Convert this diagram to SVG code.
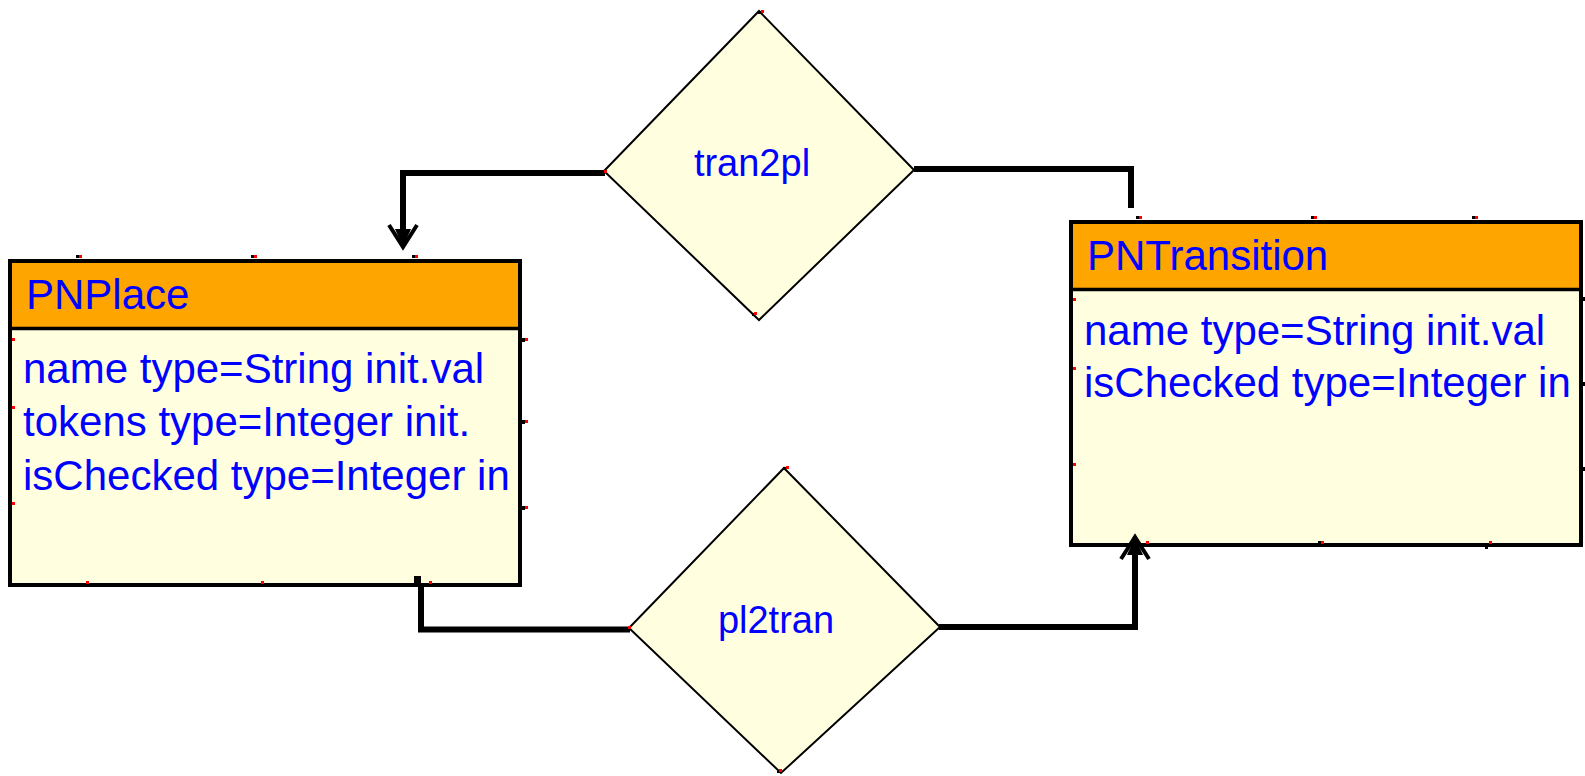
<svg xmlns="http://www.w3.org/2000/svg" width="1585" height="776" viewBox="0 0 1585 776">
<style>
.box{fill:#FFFFE0;stroke:#000;stroke-width:4}
.hdr{fill:#FFA500}
.div{stroke:#000;stroke-width:3.5}
.dia{fill:#FFFFE0;stroke:#000;stroke-width:2}
.t{font-family:"Liberation Sans",Arial,sans-serif;font-size:42px;fill:#0000FF}
.lbl{font-family:"Liberation Sans",Arial,sans-serif;font-size:38px;fill:#0000FF;text-anchor:middle}
.edge{fill:none;stroke:#000;stroke-width:6;stroke-linejoin:miter;stroke-linecap:butt}
.r{fill:#FF0000}
.k{fill:#000}
</style>
<defs>
<marker id="arr" markerUnits="userSpaceOnUse" viewBox="-30 -20 40 40" markerWidth="40" markerHeight="40" refX="-7" refY="0" orient="auto">
<path d="M-22,-14 L0,0 L-22,14" fill="none" stroke="#000" stroke-width="4"/>
<path d="M0,0 L-18,-8 L-18,8 Z" fill="#000"/>
</marker>
</defs>
<g id="PNPlace">
<rect class="box" x="10" y="261" width="510" height="324"/>
<rect class="hdr" x="12" y="263" width="506" height="65"/>
<line class="div" x1="10" y1="328.5" x2="520" y2="328.5"/>
<text class="t" x="26" y="309">PNPlace</text>
<text class="t" x="23" y="383">name type=String init.val</text>
<text class="t" x="23" y="436">tokens type=Integer init.</text>
<text class="t" x="23" y="490">isChecked type=Integer in</text>
</g>
<g id="PNTransition">
<rect class="box" x="1071" y="222" width="510" height="323"/>
<rect class="hdr" x="1073" y="224" width="506" height="65"/>
<line class="div" x1="1071" y1="289.5" x2="1581" y2="289.5"/>
<text class="t" x="1087" y="270">PNTransition</text>
<text class="t" x="1084" y="345">name type=String init.val</text>
<text class="t" x="1084" y="397">isChecked type=Integer in</text>
</g>
<g id="tran2pl">
<polygon class="dia" points="759,11 914,170 759,320 604,171"/>
<text class="lbl" x="752" y="176">tran2pl</text>
</g>
<g id="pl2tran">
<polygon class="dia" points="784,468 940,627 781,773 629,628"/>
<text class="lbl" x="776" y="633">pl2tran</text>
</g>
<g id="connectors">
<path class="edge" d="M1131,208 L1131,169 L914,169"/>
<path class="edge" d="M605,173 L403,173 L403,240" marker-end="url(#arr)"/>
<path class="edge" d="M421,584 L421,629.5 L630,629.5"/>
<path class="edge" d="M939,627 L1135,627 L1135,544" marker-end="url(#arr)"/>
<rect class="k" x="414" y="576" width="7" height="9"/>
</g>
<g id="ports">
<rect class="k" x="76" y="255" width="3" height="3"/><rect class="r" x="79" y="255" width="3" height="3"/>
<rect class="k" x="251" y="255" width="3" height="3"/><rect class="r" x="254" y="255" width="3" height="3"/>
<rect class="k" x="412" y="255" width="3" height="3"/><rect class="r" x="415" y="255" width="3" height="3"/>
<rect class="r" x="12" y="338" width="3" height="3"/>
<rect class="r" x="12" y="406" width="3" height="3"/>
<rect class="r" x="12" y="502" width="3" height="3"/>
<rect class="k" x="522" y="338" width="3" height="4"/><rect class="r" x="525" y="338" width="3" height="3"/>
<rect class="k" x="522" y="420" width="3" height="4"/><rect class="r" x="525" y="420" width="3" height="3"/>
<rect class="k" x="522" y="506" width="3" height="4"/><rect class="r" x="525" y="506" width="3" height="3"/>
<rect class="r" x="86" y="581" width="3" height="3"/>
<rect class="r" x="261" y="581" width="3" height="3"/>
<rect class="r" x="429" y="581" width="3" height="3"/>
<rect class="k" x="1136" y="216" width="3" height="3"/><rect class="r" x="1139" y="216" width="3" height="3"/>
<rect class="k" x="1311" y="216" width="3" height="3"/><rect class="r" x="1314" y="216" width="3" height="3"/>
<rect class="k" x="1472" y="216" width="3" height="3"/><rect class="r" x="1475" y="216" width="3" height="3"/>
<rect class="r" x="1073" y="298" width="3" height="3"/>
<rect class="r" x="1073" y="367" width="3" height="3"/>
<rect class="r" x="1073" y="463" width="3" height="3"/>
<rect class="k" x="1582" y="297" width="3" height="4"/>
<rect class="k" x="1582" y="382" width="3" height="4"/>
<rect class="k" x="1582" y="467" width="3" height="4"/>
<rect class="r" x="1146" y="541" width="3" height="3"/>
<rect class="k" x="1318" y="541" width="3" height="3"/><rect class="r" x="1321" y="541" width="3" height="3"/>
<rect class="k" x="1485" y="545" width="3" height="4"/><rect class="r" x="1489" y="541" width="3" height="3"/>
<rect class="k" x="758" y="11" width="3" height="3"/><rect class="r" x="761" y="10" width="3" height="3"/>
<rect class="r" x="604" y="170" width="3" height="3"/>
<rect class="k" x="752" y="313" width="3" height="3"/><rect class="r" x="754" y="312" width="3" height="3"/>
<rect class="k" x="783" y="467" width="3" height="3"/><rect class="r" x="786" y="466" width="3" height="3"/>
<rect class="r" x="628" y="626" width="3" height="3"/>
<rect class="k" x="777" y="770" width="3" height="3"/><rect class="r" x="779" y="769" width="3" height="3"/>
</g>
</svg>
